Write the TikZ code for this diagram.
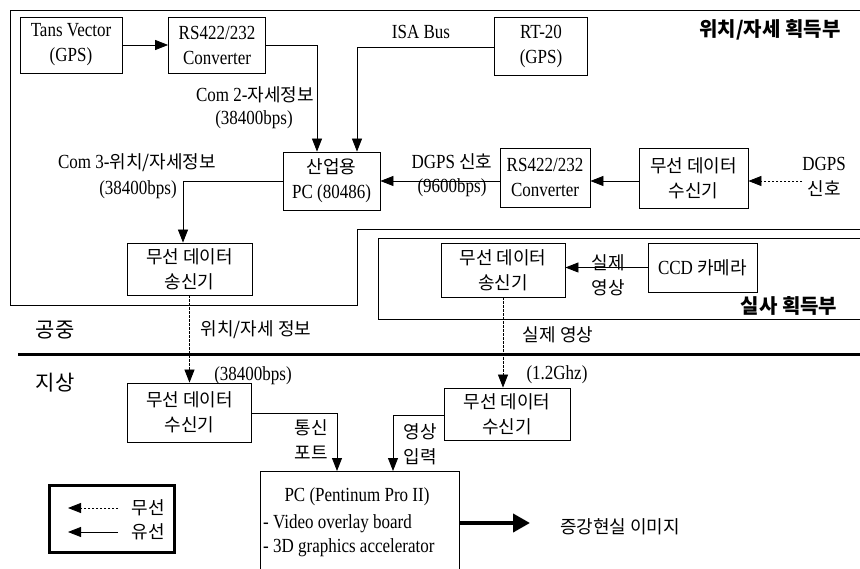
\documentclass[tikz,border=0pt]{standalone}
\usepackage{fontspec}
\setmainfont{Liberation Serif}[FakeStretch=0.85]
\newfontfamily\kr{Noto Sans CJK KR}
\usetikzlibrary{arrows.meta}
\newcommand\K[1]{{\kr\krsz #1}}
\newcommand\lat{\fontsize{20}{25}\selectfont}
\newcommand\krsz{\fontsize{18}{25}\selectfont}
\tikzset{
  box/.style={draw, line width=0.8pt, inner sep=0pt, align=center, font=\lat},
  wire/.style={line width=0.8pt, -{Triangle[length=13pt,width=10pt]}},
  wless/.style={wire, dash pattern=on 2.5pt off 1.5pt},
  lbl/.style={inner sep=0pt, align=center, font=\lat},
  title/.style={inner sep=0pt, font=\fontsize{20}{24}\selectfont\kr\bfseries},
  frame/.style={line width=0.8pt},
}
\begin{document}
\begin{tikzpicture}[x=1pt,y=-1pt]
\useasboundingbox (0,0) rectangle (860,569);
% frames
\draw[frame] (860,229) -- (357,229) -- (357,305) -- (10,305) -- (10,10) -- (860,10);
\draw[frame] (860,238) -- (378,238) -- (378,319) -- (860,319);
\draw[line width=3pt] (18,355) -- (860,355);
% boxes
\node[box, minimum width=102, minimum height=56] (tans) at (71,45) {Tans Vector\\(GPS)};
\node[box, minimum width=97, minimum height=56] (rsA) at (217,45) {RS422/232\\Converter};
\node[box, minimum width=93, minimum height=58] (rt) at (541,46) {RT-20\\(GPS)};
\node[box, minimum width=97, minimum height=58] (pcA) at (331.5,181) {\K{산업용}\\PC (80486)};
\node[box, minimum width=90, minimum height=59] (rsB) at (545,177.5) {RS422/232\\Converter};
\node[box, minimum width=109, minimum height=60, font=\krsz\kr] (rxA) at (693.5,178) {무선 데이터\\수신기};
\node[lbl] (dgps) at (824,177) {DGPS\\\K{신호}};
\node[box, minimum width=125, minimum height=52, font=\krsz\kr] (txA) at (189.5,269) {무선 데이터\\송신기};
\node[box, minimum width=124, minimum height=54, font=\krsz\kr] (txB) at (503,270) {무선 데이터\\송신기};
\node[box, minimum width=109, minimum height=49] (ccd) at (702.5,267.5) {CCD \K{카메라}};
\node[box, minimum width=124, minimum height=59, font=\krsz\kr] (rxL) at (189.5,412.5) {무선 데이터\\수신기};
\node[box, minimum width=126, minimum height=52, font=\krsz\kr] (rxR) at (507,414) {무선 데이터\\수신기};
\node[inner sep=0pt, minimum width=199, minimum height=98, anchor=north west] (pcB) at (260,471) {};
\draw[frame] (pcB.south west) -- (pcB.north west) -- (pcB.north east) -- (pcB.south east);
\node[lbl] (pct1) at (357,497) {PC (Pentinum Pro II)};
\node[lbl, anchor=west] (pct2) at (263,524) {- Video overlay board};
\node[lbl, anchor=west] (pct3) at (263,548) {- 3D graphics accelerator};
% labels
\node[lbl] (isa) at (421,32) {ISA Bus};
\node[title] (t1) at (770,30) {위치/자세 획득부};
\node[title] (t2) at (789,306) {실사 획득부};
\node[lbl] (com2) at (255,95) {Com 2-\K{자세정보}};
\node[lbl] (com2b) at (254,120) {(38400bps)};
\node[lbl] (com3) at (137,163) {Com 3-\K{위치/자세정보}};
\node[lbl] (com3b) at (138,190) {(38400bps)};
\node[lbl] (dg) at (452,162) {DGPS \K{신호}};
\node[lbl] (dgb) at (452,188) {(9600bps)};
\node[lbl, font=\krsz\kr] (real) at (608,275) {실제\\영상};
\node[title] (air) at (55,330) {\fontsize{21}{24}\selectfont\mdseries 공중};
\node[title] (gnd) at (55,383) {\fontsize{21}{24}\selectfont\mdseries 지상};
\node[lbl, font=\krsz\kr] (pos) at (256,330) {위치/자세 정보};
\node[lbl] (posb) at (253,376) {(38400bps)};
\node[lbl, font=\krsz\kr] (img) at (558,335) {실제 영상};
\node[lbl] (imgb) at (557,375) {(1.2Ghz)};
\node[lbl, font=\krsz\kr] (com) at (311,440) {통신\\포트};
\node[lbl, font=\krsz\kr] (vin) at (420,444) {영상\\입력};
\node[lbl, font=\krsz\kr] (ar) at (620,527) {증강현실 이미지};
% connectors
\coordinate (c2) at (317,45);
\coordinate (ci) at (357,47);
\coordinate (c3) at (183,181);
\coordinate (p1) at (337,413);
\coordinate (p2) at (393,415);
\coordinate (pa) at (530,523);
\draw[wire] (tans.east) -- (rsA.west);
\draw[wire] (rsA.east) -- (c2) -- (c2 |- pcA.north);
\draw[wire] (rt.west |- ci) -- (ci) -- (ci |- pcA.north);
\draw[wire] (pcA.west) -- (c3) -- (c3 |- txA.north);
\draw[wire] (rsB.west |- pcA.east) -- (pcA.east);
\draw[wire] (rxA.west |- pcA.east) -- (rsB.east |- pcA.east);
\draw[wless] (dgps.west |- pcA.east) -- (rxA.east |- pcA.east);
\draw[wire] (ccd.west) -- (txB.east |- ccd.west);
\draw[wless] (txA.south) -- (rxL.north);
\draw[wless] (txB.south) -- (txB.south |- rxR.north);
\draw[wire] (rxL.east |- p1) -- (p1) -- (p1 |- pcB.north);
\draw[wire] (rxR.west |- p2) -- (p2) -- (p2 |- pcB.north);
\draw[line width=4pt, -{Triangle[length=17pt,width=18pt]}] (pcB.east |- pa) -- (pa);
% legend
\node[draw, line width=3pt, inner sep=0pt, minimum width=125, minimum height=67] (leg) at (112,519) {};
\coordinate (l1) at (118,508);
\coordinate (l2) at (118,532);
\node[lbl, font=\krsz\kr] (lw) at (148,508) {무선};
\node[lbl, font=\krsz\kr] (lc) at (148,532) {유선};
\draw[wless] (l1) -- (l1 -| 68,0);
\draw[wire] (l2) -- (l2 -| 68,0);
\end{tikzpicture}
\end{document}
